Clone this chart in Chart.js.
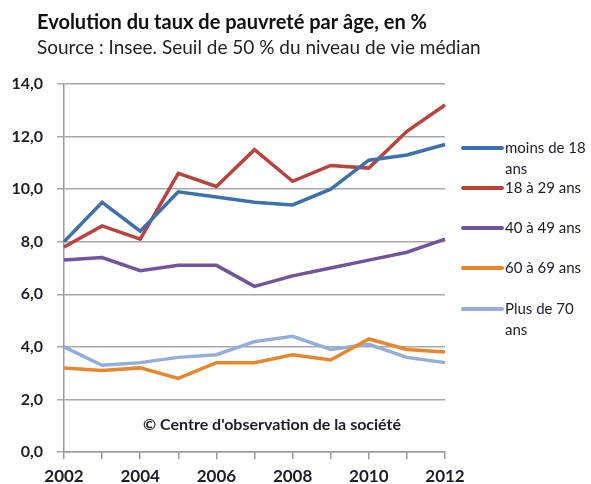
<!DOCTYPE html>
<html><head><meta charset="utf-8">
<script src="https://cdn.jsdelivr.net/npm/chart.js@4"></script>
<style>html,body{margin:0;padding:0;background:#fff}#wrap{width:591px;height:484px;position:relative}</style>
</head><body><div id="wrap"><canvas id="c" width="591" height="484"></canvas></div>
<script>
const title = "Evolution du taux de pauvreté par âge, en %";
const subtitle = "Source : Insee. Seuil de 50 % du niveau de vie médian";
const watermark = "© Centre d'observation de la société";
const years = ["2002","2003","2004","2005","2006","2007","2008","2009","2010","2011","2012"];
const seriesNames = [["moins de 18","ans"],["18 à 29 ans"],["40 à 49 ans"],["60 à 69 ans"],["Plus de 70","ans"]];
const seriesColors = ["#3E70AC","#B9433F","#72549A","#E8862E","#93AEDA"];
const moins18 = [8.0,9.5,8.4,9.9,9.7,9.5,9.4,10.0,11.1,11.3,11.7];
const de18a29 = [7.8,8.6,8.1,10.6,10.1,11.5,10.3,10.9,10.8,12.2,13.2];
const de40a49 = [7.3,7.4,6.9,7.1,7.1,6.3,6.7,7.0,7.3,7.6,8.1];
const de60a69 = [3.2,3.1,3.2,2.8,3.4,3.4,3.7,3.5,4.3,3.9,3.8];
const plus70 = [4.0,3.3,3.4,3.6,3.7,4.2,4.4,3.9,4.1,3.6,3.4];
const yMin = 0, yMax = 14, yStep = 2;

const allSeries = [moins18, de18a29, de40a49, de60a69, plus70];
const FONT = "Lato";
const TXT = "#1d1d2b";

const extras = {
  id: 'extras',
  afterDraw(chart) {
    const ctx = chart.ctx;
    ctx.save();
    ctx.fillStyle = "#111";
    ctx.textBaseline = "alphabetic";
    ctx.textAlign = "left";
    ctx.font = "bold 20px " + FONT;
    ctx.fillText(title, 37, 29);
    ctx.font = "19px " + FONT;
    ctx.fillStyle = "#222";
    ctx.fillText(subtitle, 37, 54);
    // watermark
    ctx.font = "bold 16px " + FONT;
    ctx.fillStyle = TXT;
    ctx.fillText(watermark, 143, 430);
    // legend
    const ys = [148, 188, 228, 268, 309];
    chart.data.datasets.forEach((ds, i) => {
      const y = ys[i];
      ctx.strokeStyle = ds.borderColor;
      ctx.lineWidth = 4;
      ctx.lineCap = "round";
      ctx.beginPath(); ctx.moveTo(463, y); ctx.lineTo(502, y); ctx.stroke();
      ctx.font = "15px " + FONT;
      ctx.fillStyle = TXT;
      ctx.textBaseline = "middle";
      ds.label.forEach((t, k) => ctx.fillText(t, 505, y + k * 21));
    });
    ctx.restore();
  }
};

new Chart(document.getElementById('c'), {
  type: 'line',
  data: {
    labels: years,
    datasets: allSeries.map((d, i) => ({
      label: seriesNames[i],
      data: d,
      borderColor: seriesColors[i],
      backgroundColor: seriesColors[i],
      borderWidth: 3.5,
      pointRadius: 0,
      tension: 0,
      fill: false
    }))
  },
  options: {
    responsive: false,
    animation: false,
    devicePixelRatio: 1,
    layout: { padding: { left: 0, right: 146, top: 84, bottom: 0 } },
    plugins: { legend: { display: false }, title: { display: false }, tooltip: { enabled: false } },
    scales: {
      x: {
        type: 'category',
        offset: false,
        grid: { display: true, drawOnChartArea: false, drawTicks: true, tickLength: 7, color: "#9a9a9a", lineWidth: 1.5 },
        border: { display: true, color: "#9a9a9a", width: 1.5 },
        ticks: {
          autoSkip: false, maxRotation: 0, padding: 7,
          color: TXT, font: { family: FONT, size: 17, weight: 'bold' },
          callback: function(v, i) { return i % 2 === 0 ? years[i] : ''; }
        },
        afterFit(s) { s.height = 32; }
      },
      y: {
        min: yMin, max: yMax,
        grid: { color: "#a8a8a8", lineWidth: 1.5, tickLength: 7 },
        border: { display: true, color: "#9a9a9a", width: 1.5 },
        ticks: {
          stepSize: yStep, padding: 14,
          color: TXT, font: { family: FONT, size: 16, weight: 'bold' },
          callback: v => v.toFixed(1).replace('.', ',')
        },
        afterFit(s) { s.width = 64; }
      }
    }
  },
  plugins: [extras]
});
</script></body></html>
